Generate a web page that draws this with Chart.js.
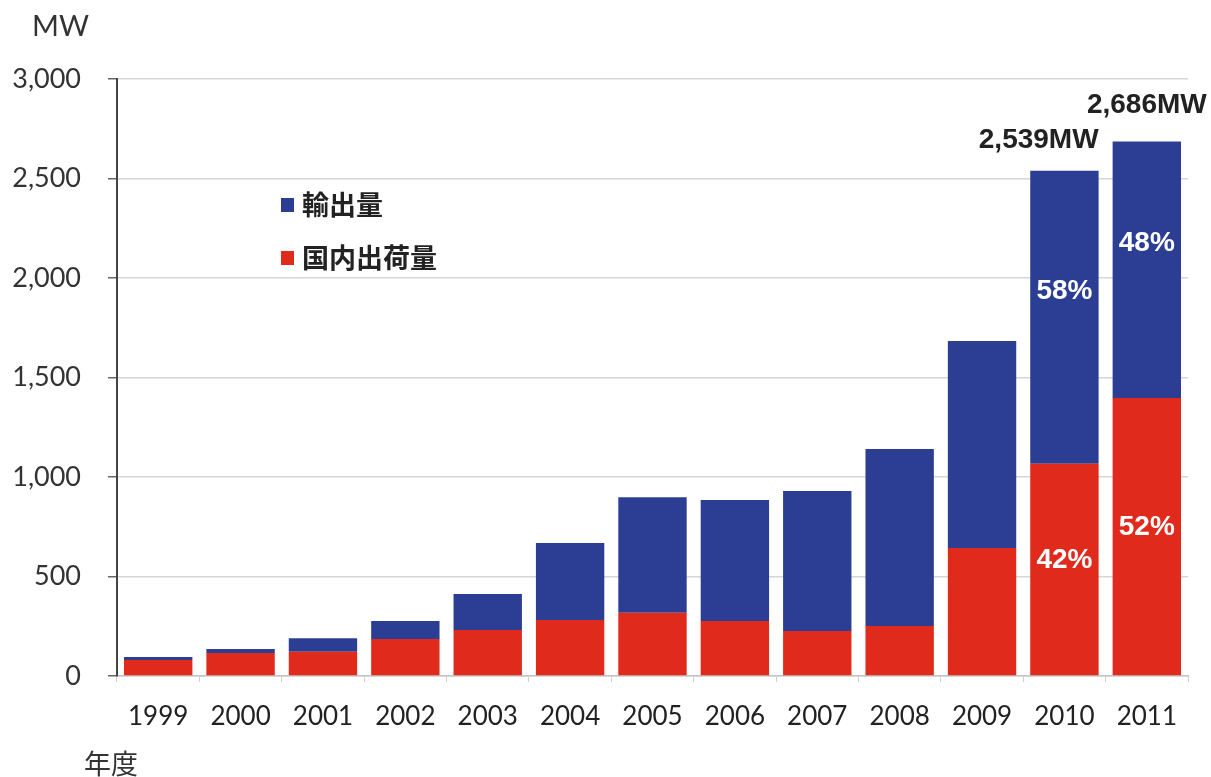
<!DOCTYPE html>
<html lang="ja">
<head>
<meta charset="utf-8">
<title>太陽電池出荷量の推移</title>
<script src="https://cdn.jsdelivr.net/npm/chart.js@4/dist/chart.umd.min.js"></script>
<style>
  html, body { margin: 0; padding: 0; background: #ffffff; }
  #wrap { width: 1211px; height: 777px; position: relative; }
</style>
</head>
<body>
<div id="wrap"><canvas id="c" width="1211" height="777"></canvas></div>
<script>
// 年度
const years = ['1999', '2000', '2001', '2002', '2003', '2004', '2005', '2006', '2007', '2008', '2009', '2010', '2011'];
// 国内出荷量 (MW)
const domestic = [80, 115, 122, 186, 231, 281, 318, 276, 226, 251, 643, 1066, 1397];
// 輸出量 (MW)
const exportsMW = [15, 21, 68, 90, 181, 387, 580, 608, 704, 890, 1040, 1473, 1289];
// 合計と内訳の割合を表示する年度
const annotatedYears = ['2010', '2011'];
// 縦軸の目盛
const yTicks = [0, 500, 1000, 1500, 2000, 2500, 3000];

const BLUE = '#2c3e94';
const RED = '#e02a1b';
const SANS = 'Lato, "Open Sans", sans-serif';

// 合計ラベルの配置
const totalLabelStyle = {
  '2010': { align: 'right', rise: 30 },
  '2011': { align: 'center', rise: 36 }
};

// 軸タイトルと凡例
const decorations = {
  id: 'decorations',
  afterDraw(chart) {
    const ctx = chart.ctx;
    ctx.save();
    ctx.fillStyle = '#333';
    ctx.textBaseline = 'middle';
    ctx.textAlign = 'left';
    ctx.font = '29px ' + SANS;
    ctx.fillText('MW', 32, 27);
    ctx.font = '27px "Noto Sans CJK JP", sans-serif';
    ctx.fillText('年度', 84, 764);

    // 凡例（輸出量を上に表示）
    const items = [chart.data.datasets[1], chart.data.datasets[0]];
    ctx.font = 'bold 27px "Noto Sans CJK JP", sans-serif';
    items.forEach((ds, i) => {
      const cy = 205 + i * 53;
      ctx.fillStyle = ds.backgroundColor;
      ctx.fillRect(281, cy - 7, 13, 14);
      ctx.fillStyle = '#222';
      ctx.fillText(ds.label, 302, cy);
    });
    ctx.restore();
  }
};

// 合計値と割合のラベル
const valueLabels = {
  id: 'valueLabels',
  afterDatasetsDraw(chart) {
    const ctx = chart.ctx;
    const redMeta = chart.getDatasetMeta(0);
    const blueMeta = chart.getDatasetMeta(1);
    ctx.save();
    ctx.textBaseline = 'middle';
    annotatedYears.forEach(yr => {
      const i = years.indexOf(yr);
      const total = domestic[i] + exportsMW[i];
      const redBar = redMeta.data[i];
      const blueBar = blueMeta.data[i];

      // 割合
      ctx.fillStyle = '#ffffff';
      ctx.textAlign = 'center';
      ctx.font = 'bold 28px "Liberation Sans", Arial, sans-serif';
      const pRed = Math.round(domestic[i] / total * 100);
      const pBlue = Math.round(exportsMW[i] / total * 100);
      ctx.fillText(pBlue + '%', blueBar.x, (blueBar.y + blueBar.base) / 2 - 26);
      ctx.fillText(pRed + '%', redBar.x, (redBar.y + redBar.base) / 2 - 9);

      // 合計
      const st = totalLabelStyle[yr];
      ctx.fillStyle = '#222';
      ctx.font = 'bold 28px "Liberation Sans", Arial, sans-serif';
      ctx.textAlign = st.align;
      const tx = st.align === 'right' ? blueBar.x + blueBar.width / 2 : blueBar.x;
      ctx.fillText(total.toLocaleString('en-US') + 'MW', tx, blueBar.y - st.rise);
    });
    ctx.restore();
  }
};

new Chart(document.getElementById('c'), {
  type: 'bar',
  data: {
    labels: years,
    datasets: [
      { label: '国内出荷量', data: domestic, backgroundColor: RED, borderWidth: 0 },
      { label: '輸出量', data: exportsMW, backgroundColor: BLUE, borderWidth: 0 }
    ]
  },
  options: {
    responsive: false,
    animation: false,
    devicePixelRatio: 1,
    layout: { padding: { top: 79, right: 23, bottom: 0, left: 0 } },
    plugins: {
      legend: { display: false },
      tooltip: { enabled: false }
    },
    datasets: { bar: { barPercentage: 0.83, categoryPercentage: 1.0 } },
    scales: {
      x: {
        stacked: true,
        afterFit(scale) { scale.height = 101; },
        grid: { drawOnChartArea: false, drawTicks: true, tickLength: 6, tickColor: '#cfcfcf', offset: true },
        border: { color: '#c4c4c4', width: 1.5 },
        ticks: { color: '#222', font: { family: SANS, size: 26 }, padding: 19, maxRotation: 0 }
      },
      y: {
        stacked: true,
        min: 0,
        max: 3000,
        afterFit(scale) { scale.width = 117; },
        afterBuildTicks(scale) { scale.ticks = yTicks.map(v => ({ value: v })); },
        grid: { color: '#d6d6d6', lineWidth: 1.5, tickLength: 9, tickColor: '#666' },
        border: { color: '#444', width: 2 },
        ticks: {
          color: '#333',
          font: { family: SANS, size: 27 },
          padding: 27,
          callback: v => v.toLocaleString('en-US')
        }
      }
    }
  },
  plugins: [valueLabels, decorations]
});
</script>
</body>
</html>
